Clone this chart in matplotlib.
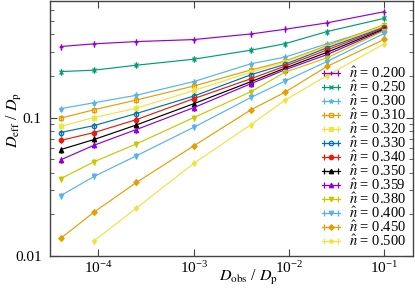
import matplotlib
matplotlib.use("Agg")
import matplotlib.pyplot as plt
import matplotlib.ticker as ticker

plt.rcParams['font.family'] = ['Liberation Serif', 'DejaVu Serif']
plt.rcParams['mathtext.fontset'] = 'stix'

# D_obs / D_p
x_obs = [4e-5, 9e-5, 2.5e-4, 1e-3, 4e-3, 9e-3, 2.5e-2, 1e-1]
x_obs_500 = x_obs[1:]

n_hat = ['0.200', '0.250', '0.300', '0.310', '0.320', '0.330', '0.340',
         '0.350', '0.359', '0.380', '0.400', '0.450', '0.500']

# D_eff / D_p for each n_hat
d_200 = [0.326, 0.341, 0.354, 0.366, 0.402, 0.434, 0.483, 0.582]
d_250 = [0.215, 0.220, 0.239, 0.264, 0.307, 0.341, 0.418, 0.521]
d_300 = [0.116, 0.128, 0.145, 0.182, 0.245, 0.273, 0.341, 0.454]
d_310 = [0.099, 0.114, 0.134, 0.169, 0.221, 0.255, 0.331, 0.469]
d_320 = [0.0866, 0.100, 0.117, 0.157, 0.213, 0.251, 0.326, 0.461]
d_330 = [0.078, 0.0876, 0.107, 0.143, 0.204, 0.242, 0.319, 0.449]
d_340 = [0.0684, 0.078, 0.0967, 0.137, 0.191, 0.235, 0.308, 0.444]
d_350 = [0.0587, 0.0695, 0.0885, 0.126, 0.182, 0.227, 0.296, 0.437]
d_359 = [0.0495, 0.0632, 0.082, 0.118, 0.176, 0.221, 0.285, 0.430]
d_380 = [0.0362, 0.048, 0.0646, 0.100, 0.154, 0.212, 0.270, 0.425]
d_400 = [0.0273, 0.0376, 0.053, 0.0851, 0.140, 0.183, 0.254, 0.406]
d_450 = [0.0134, 0.0208, 0.034, 0.0625, 0.114, 0.152, 0.234, 0.367]
d_500 = [0.0129, 0.0222, 0.0467, 0.0891, 0.133, 0.201, 0.341]

series = [d_200, d_250, d_300, d_310, d_320, d_330, d_340,
          d_350, d_359, d_380, d_400, d_450, d_500]
colors = ['#9400D3', '#009E73', '#56B4E9', '#E69F00', '#F0E442', '#0072B2', '#E51E10',
          'black', '#9400D3', '#C8C800', '#56B4E9', '#E69F00', '#F0E442']
markers = ['+', 'x', '*', 's', 's', 'o', 'o', '^', '^', 'v', 'v', 'D', 'p']
hollow = ['0.310', '0.330']

fig = plt.figure(figsize=(4.15, 2.91), dpi=100)
ax = fig.add_axes([0.1205, 0.12, 0.8745, 0.878])

for n, d, c, m in zip(n_hat, series, colors, markers):
    xs = x_obs_500 if n == '0.500' else x_obs
    fc = 'none' if n in hollow else c
    ms = 3.2 if m not in ['D', 'p'] else 2.8
    ax.errorbar(xs, d, xerr=[0] * len(d), color=c, marker=m, ms=ms, mfc=fc, mec=c,
                mew=0.9, lw=0.85, capsize=2, elinewidth=0.85,
                label=r'$\hat{n}$ = %s' % n)

ax.set_xscale('log')
ax.set_yscale('log')
ax.set_xlim(3.1e-5, 0.2)
ax.set_ylim(0.01, 0.7)

ax.yaxis.set_major_locator(ticker.FixedLocator([0.01, 0.1]))
ax.yaxis.set_major_formatter(ticker.FixedFormatter(['0.01', '0.1']))
ax.yaxis.set_minor_locator(ticker.LogLocator(base=10, subs=range(2, 10)))
ax.yaxis.set_minor_formatter(ticker.NullFormatter())
ax.xaxis.set_major_locator(ticker.FixedLocator([1e-4, 1e-3, 1e-2, 1e-1]))
ax.xaxis.set_minor_locator(ticker.NullLocator())

ax.tick_params(which='both', direction='in', top=True, right=True, labelsize=11,
               colors='#444444', labelcolor='black')
ax.tick_params(which='major', length=5)
ax.tick_params(which='minor', length=3)
ax.tick_params(axis='y', pad=6)
ax.tick_params(axis='x', pad=3)
for s in ax.spines.values():
    s.set_color('#444444')
    s.set_linewidth(1.0)

ax.set_xlabel(r'$D_\mathrm{obs}$ / $D_\mathrm{p}$', fontsize=11.5)
ax.set_ylabel(r'$D_\mathrm{eff}$ / $D_\mathrm{p}$', fontsize=11.5)
ax.xaxis.set_label_coords(0.6 / 0.8745 - 0.1205 / 0.8745, (0.048 - 0.12) / 0.878)
ax.yaxis.set_label_coords((0.036 - 0.1205) / 0.8745, (0.588 - 0.12) / 0.878)
ax.xaxis.label.set_va('center')
ax.yaxis.label.set_va('center')

ax.legend(loc='lower right', frameon=False, fontsize=10.5, handlelength=1.2,
          handletextpad=0.6, labelspacing=-0.09, borderaxespad=0.3, borderpad=0.2)

fig.savefig('out.png', dpi=100)
